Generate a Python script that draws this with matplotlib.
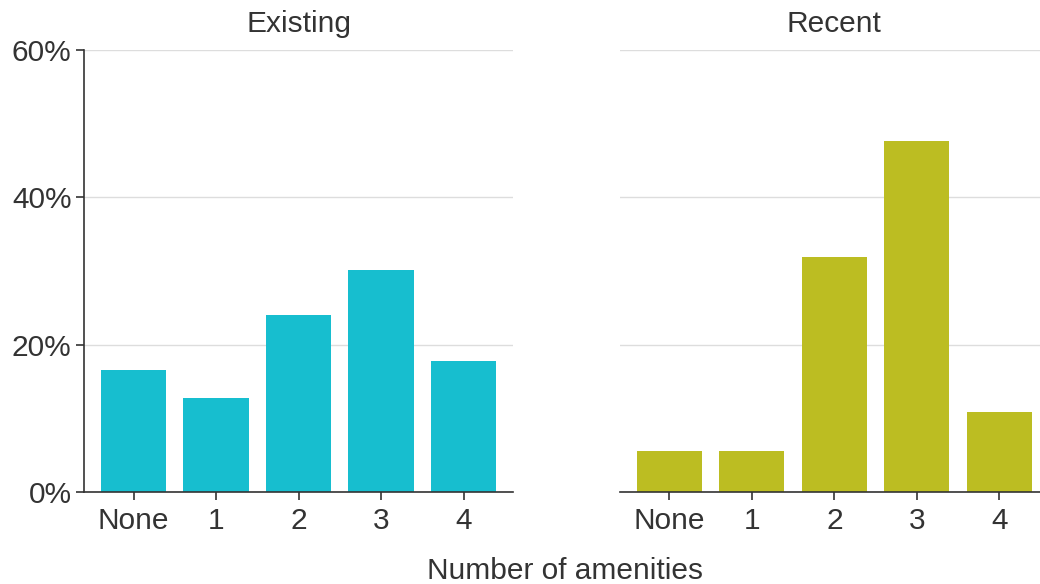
import matplotlib
matplotlib.use("Agg")
import matplotlib.pyplot as plt
from matplotlib.ticker import FuncFormatter

categories = ["None", "1", "2", "3", "4"]
existing = [16.5, 12.7, 24.0, 30.2, 17.7]
recent = [5.5, 5.5, 31.9, 47.6, 10.8]
panels = ["Existing", "Recent"]
colors = ["#17BECF", "#BCBD22"]
yticks = [0, 20, 40, 60]

plt.rcParams['font.family'] = ['Liberation Sans', 'DejaVu Sans']
txt = "#333333"
fs = 21.5

fig = plt.figure(figsize=(10.4, 5.84), dpi=100)
ax1 = fig.add_axes([0.0808, 0.158, 0.4125, 0.756])
ax2 = fig.add_axes([0.596, 0.158, 0.4125, 0.756])

for i, (ax, vals, title, col) in enumerate(zip([ax1, ax2], [existing, recent], panels, colors)):
    x = range(len(categories))
    ax.set_axisbelow(True)
    ax.yaxis.grid(True, color="#dddddd", linewidth=1)
    ax.bar(x, vals, width=0.79, color=col)
    ax.set_xlim(-0.6, 4.6)
    ax.set_ylim(0, 60)
    ax.set_yticks(yticks)
    ax.yaxis.set_major_formatter(FuncFormatter(lambda v, p: f"{int(v)}%"))
    ax.set_xticks(list(x))
    ax.set_xticklabels(categories)
    ax.tick_params(axis="both", colors=txt, labelsize=fs, length=6, width=1.2, labelcolor=txt)
    ax.tick_params(axis="x", pad=5)
    ax.tick_params(axis="y", pad=3)
    for s in ["top", "right"]:
        ax.spines[s].set_visible(False)
    ax.spines["bottom"].set_color(txt)
    ax.spines["bottom"].set_linewidth(1.2)
    ax.spines["left"].set_color(txt)
    ax.spines["left"].set_linewidth(1.2)
    ax.set_title(title, fontsize=fs, color=txt, pad=13)
    if i == 1:
        ax.spines["left"].set_visible(False)
        ax.tick_params(axis="y", left=False, labelleft=False)

fig.text(0.543, -0.002, "Number of amenities", ha="center", va="bottom", fontsize=fs, color=txt)
fig.savefig("out.png", dpi=100)
